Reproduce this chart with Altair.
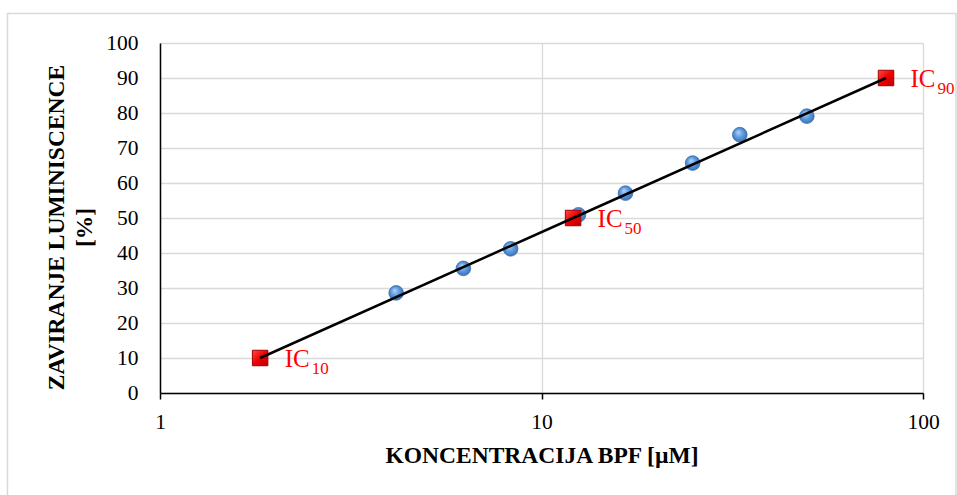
import altair as alt
import pandas as pd

# measured points
conc = [4.16, 6.24, 8.3, 12.5, 16.6, 24.9, 33.1, 49.6]
inhib = [28.6, 35.6, 41.2, 50.9, 57.1, 65.7, 73.8, 79.1]

# IC values
ic_conc = [1.83, 12.1, 80.0]
ic_val = [10, 50, 90]
ic_sub = ["10", "50", "90"]

x_ticks = [1, 10, 100]
y_ticks = list(range(0, 101, 10))

FONT = "Times New Roman, Liberation Serif, serif"

pts = pd.DataFrame({"c": conc, "v": inhib})
ic = pd.DataFrame({"c": ic_conc, "v": ic_val, "sub": ic_sub, "ic": ["IC"] * 3})

xs = alt.Scale(type="log", domain=[1, 100])
ys = alt.Scale(domain=[0, 100])

x_enc = alt.X(
    "c:Q", scale=xs,
    axis=alt.Axis(
        values=x_ticks, format="d", title="KONCENTRACIJA BPF [µM]",
        grid=True, gridColor="#d9d9d9", gridWidth=1.3,
        domainColor="black", domainWidth=1.5,
        ticks=True, tickColor="black", tickSize=6, tickWidth=1.5,
        labelFont=FONT, labelFontSize=21.5, labelColor="black",
        labelBaseline="alphabetic", labelPadding=29, labelFlush=False,
        labelOverlap=False,
        titleFont=FONT, titleFontSize=23.5, titleFontWeight="bold", titleColor="black",
        titleBaseline="alphabetic", titleY=69,
    ),
)
y_enc = alt.Y(
    "v:Q", scale=ys,
    axis=alt.Axis(
        values=y_ticks, title=["ZAVIRANJE LUMINISCENCE", "[%]"],
        grid=True, gridColor="#d9d9d9", gridWidth=1.3,
        domainColor="black", domainWidth=1.5,
        ticks=False, tickSize=0,
        labelFont=FONT, labelFontSize=21.5, labelColor="black",
        labelPadding=22, labelFlush=False, labelOverlap=False,
        titleFont=FONT, titleFontSize=23.5, titleFontWeight="bold", titleColor="black",
        titleBaseline="alphabetic", titleLineHeight=27.5,
        titleX=-96.5, titleY=184, titleAngle=270, titleAlign="center",
    ),
)

frame = alt.Chart(pd.DataFrame({"a": [0]})).mark_rect(
    fill=None, stroke="#d9d9d9", strokeWidth=1.5
).encode(
    x=alt.value(-152.5), x2=alt.value(796), y=alt.value(-29.5), y2=alt.value(470)
)

blue_grad = alt.Gradient(
    gradient="radial",
    x1=0.38, y1=0.32, r1=0.0, x2=0.5, y2=0.5, r2=0.62,
    stops=[
        alt.GradientStop(offset=0, color="#b6d6f7"),
        alt.GradientStop(offset=0.45, color="#5f9ce0"),
        alt.GradientStop(offset=1, color="#2c64aa"),
    ],
)
red_grad = alt.Gradient(
    gradient="linear", x1=0, y1=0, x2=1, y2=1,
    stops=[
        alt.GradientStop(offset=0, color="#ff4a4a"),
        alt.GradientStop(offset=0.5, color="#f00000"),
        alt.GradientStop(offset=1, color="#b80000"),
    ],
)

points = alt.Chart(pts).mark_point(
    shape="circle", filled=True, fill=blue_grad, size=215, opacity=1,
    stroke="#3b6ea8", strokeWidth=0.8,
).encode(x=x_enc, y=y_enc)

squares = alt.Chart(ic).mark_point(
    shape="square", filled=True, fill=red_grad, size=240, opacity=1,
    stroke="#a00000", strokeWidth=1,
).encode(x=x_enc, y=y_enc)

line = alt.Chart(ic).mark_line(color="black", strokeWidth=2.5).encode(
    x=x_enc, y=y_enc
)

lab_ic = alt.Chart(ic).mark_text(
    font=FONT, fontSize=25, color="#ff0000", align="left",
    baseline="alphabetic", dx=24.5, dy=9,
).encode(x=x_enc, y=y_enc, text="ic:N")

lab_sub = alt.Chart(ic).mark_text(
    font=FONT, fontSize=17, color="#ff0000", align="left",
    baseline="alphabetic", dx=51.5, dy=15.5,
).encode(x=x_enc, y=y_enc, text="sub:N")

chart = alt.layer(frame, points, squares, line, lab_ic, lab_sub).properties(
    width=763, height=350,
    autosize=alt.AutoSizeParams(type="none"),
    padding={"left": 160, "top": 43, "right": 34, "bottom": 102},
    background="white",
).configure_view(stroke=None)

chart.save("out.html", embed_options={"renderer": "svg", "actions": False})
